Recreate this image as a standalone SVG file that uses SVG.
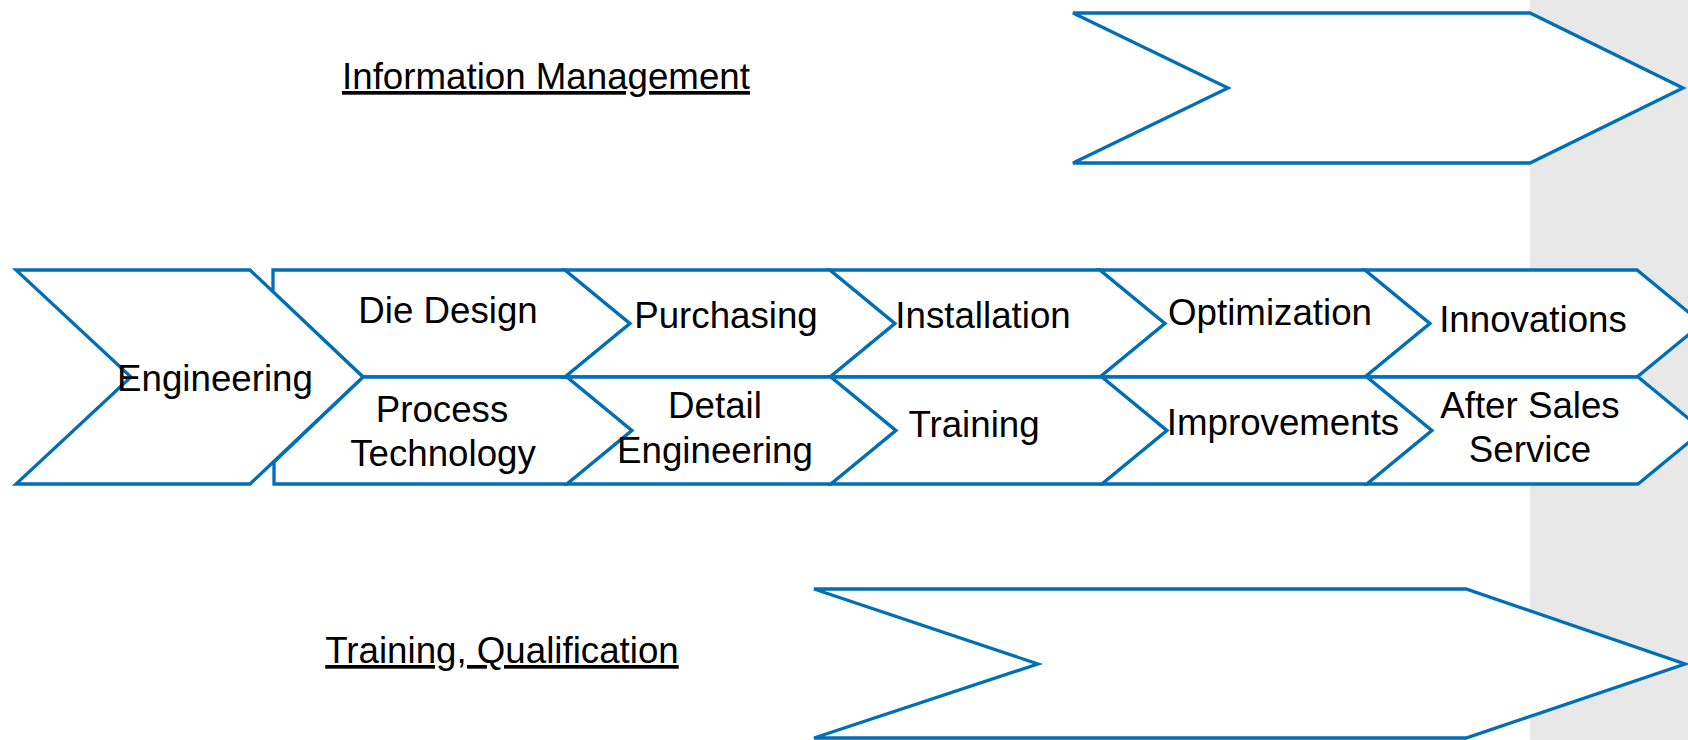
<svg xmlns="http://www.w3.org/2000/svg" width="1688" height="740" viewBox="0 0 1688 740">
<style>
.s{fill:#ffffff;stroke:#006FB7;stroke-width:3.3;stroke-linejoin:miter}
.t{font-family:"Liberation Sans",Arial,sans-serif;font-size:36.7px;fill:#000000;text-anchor:middle}
.u{text-decoration:underline}
</style>
<rect x="1530" y="0" width="158" height="740" fill="#E8E8E8"/>
<g id="connectors"></g>
<g id="info-arrow"><polygon class="s" points="1073,13 1530,13 1683,88 1530,163 1073,163 1228,88"/></g>
<g id="info-label"><text class="t u" x="546" y="89">Information Management</text></g>
<g id="training-arrow"><polygon class="s" points="814,589 1466,589 1685,664 1466,738 814,738 1038,664"/></g>
<g id="training-label"><text class="t u" x="502" y="663">Training, Qualification</text></g>
<g id="die-design"><polygon class="s" points="273,270 565,270 630,323.5 565,377 363,377 273,292"/><text class="t" x="448" y="323">Die Design</text></g>
<g id="process-technology"><polygon class="s" points="274,484 274,462 363,377 567,377 632,430.5 567,484"/><text class="t" x="442" y="422">Process</text><text class="t" x="443" y="466">Technology</text></g>
<g id="engineering"><polygon class="s" points="16,270 250,270 363,377 250,484 16,484 131,377"/><text class="t" x="215" y="391">Engineering</text></g>
<g id="purchasing"><polygon class="s" points="565,270 830,270 895,323.5 830,377 565,377 630,323.5"/><text class="t" x="726" y="328">Purchasing</text></g>
<g id="installation"><polygon class="s" points="830,270 1100,270 1165,323.5 1100,377 830,377 895,323.5"/><text class="t" x="983" y="328">Installation</text></g>
<g id="optimization"><polygon class="s" points="1100,270 1365,270 1430,323.5 1365,377 1100,377 1165,323.5"/><text class="t" x="1270" y="325">Optimization</text></g>
<g id="innovations"><polygon class="s" points="1365,270 1637,270 1702,323.5 1637,377 1365,377 1430,323.5"/><text class="t" x="1533" y="332">Innovations</text></g>
<g id="detail-engineering"><polygon class="s" points="567,377 831,377 896,430.5 831,484 567,484 632,430.5"/><text class="t" x="715" y="418">Detail</text><text class="t" x="715" y="463">Engineering</text></g>
<g id="training"><polygon class="s" points="831,377 1102,377 1167,430.5 1102,484 831,484 896,430.5"/><text class="t" x="974" y="437">Training</text></g>
<g id="improvements"><polygon class="s" points="1102,377 1367,377 1432,430.5 1367,484 1102,484 1167,430.5"/><text class="t" x="1283" y="435">Improvements</text></g>
<g id="after-sales"><polygon class="s" points="1367,377 1638,377 1703,430.5 1638,484 1367,484 1432,430.5"/><text class="t" x="1530" y="418">After Sales</text><text class="t" x="1530" y="462">Service</text></g>
</svg>
